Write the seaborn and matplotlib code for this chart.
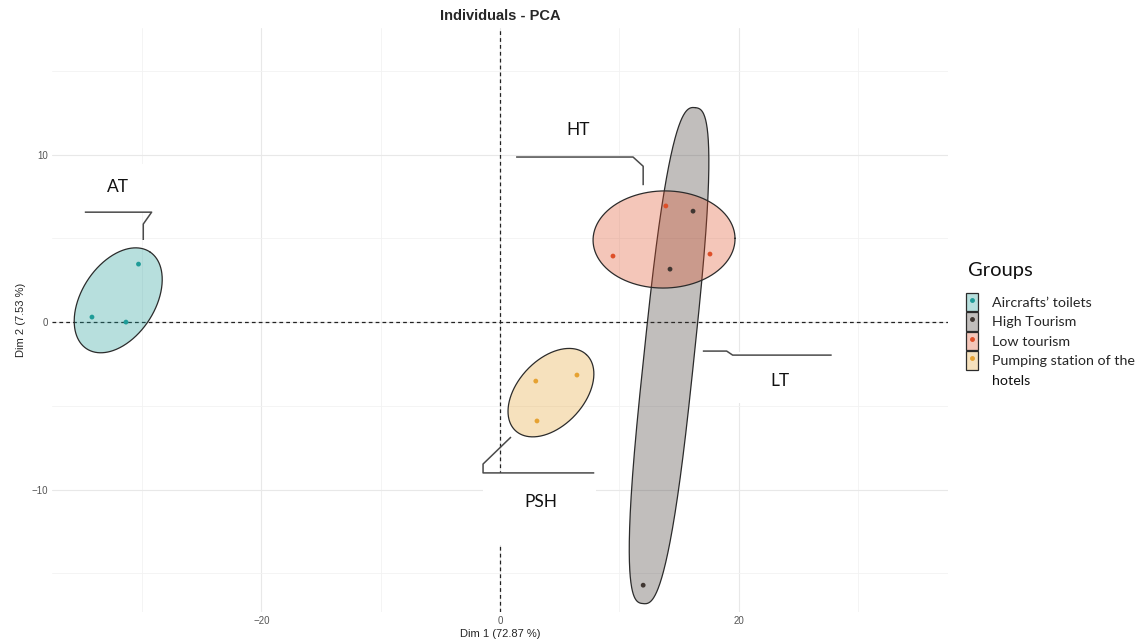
import numpy as np
import pandas as pd
import matplotlib
matplotlib.use("Agg")
import matplotlib.pyplot as plt
import seaborn as sns
from matplotlib.patches import Patch, Rectangle
from matplotlib.lines import Line2D
from matplotlib.legend_handler import HandlerTuple
from matplotlib.colors import to_rgba

# ---- data ----
groups = ["Aircrafts’ toilets", "High Tourism", "Low tourism", "Pumping station of the\nhotels"]
point_colors = ["#1f9c98", "#3f3631", "#de4f28", "#e6a232"]

at_x = [-30.3, -34.2, -31.35]
at_y = [3.46, 0.3, 0.0]
high_x = [16.18, 14.25, 12.0]
high_y = [6.62, 3.16, -15.7]
low_x = [9.47, 13.9, 17.6]
low_y = [3.94, 6.93, 4.06]
psh_x = [3.0, 6.45, 3.1]
psh_y = [-3.52, -3.16, -5.9]

# ellipse per group: centre, semi-axes (x units, as seen on screen), angle, squareness
ell_cx = [-32.0, 14.17, 13.75, 4.27]
ell_cy = [1.3, -2.0, 4.93, -4.21]
ell_a = [4.85, 20.9, 5.95, 4.36]
ell_b = [3.07, 2.1, 4.07, 2.77]
ell_ang = [57, 84, 1, 47]
ell_n = [2, 2.8, 2, 2]

df = pd.DataFrame({
    "Dim1": at_x + high_x + low_x + psh_x,
    "Dim2": at_y + high_y + low_y + psh_y,
    "Groups": [groups[0]] * 3 + [groups[1]] * 3 + [groups[2]] * 3 + [groups[3]] * 3,
})

# ---- style ----
sns.set_theme(style="whitegrid")
plt.rcParams["font.family"] = ["Liberation Sans", "DejaVu Sans"]

W, H = 1144, 643
fig = plt.figure(figsize=(W / 100, H / 100), dpi=100)
ax = fig.add_axes([52 / W, 1 - 612 / H, 896 / W, 584 / H])
xlim = (-37.55, 37.55)
ylim = (-17.3, 17.55)
ax.set_xlim(xlim)
ax.set_ylim(ylim)

# screen aspect, so ellipses keep their on-screen shape
ppx = 896 / (xlim[1] - xlim[0])
ppy = 584 / (ylim[1] - ylim[0])
ratio = ppy / ppx

# grid like theme_minimal
ax.set_xticks([-20, 0, 20])
ax.set_xticks([-30, -10, 10, 30], minor=True)
ax.set_yticks([-10, 0, 10])
ax.set_yticks([-15, -5, 5, 15], minor=True)
ax.grid(which="major", color="#e8e8e8", lw=0.8)
ax.grid(which="minor", color="#f2f2f2", lw=0.6)
for sp in ax.spines.values():
    sp.set_visible(False)
ax.tick_params(which="both", length=0, labelsize=7, labelcolor="#555555", pad=3)

ax.axhline(0, color="#222222", ls=(0, (3, 2.5)), lw=0.9, zorder=1.5)
ax.axvline(0, color="#222222", ls=(0, (3, 2.5)), lw=0.9, zorder=1.5)

# ---- ellipses ----
t = np.linspace(0, 2 * np.pi, 500)
for i, g in enumerate(groups):
    c, s = np.cos(t), np.sin(t)
    u = ell_a[i] * np.sign(c) * np.abs(c) ** (2 / ell_n[i])
    v = ell_b[i] * np.sign(s) * np.abs(s) ** (2 / ell_n[i])
    th = np.radians(ell_ang[i])
    ex = ell_cx[i] + u * np.cos(th) - v * np.sin(th)
    ey = ell_cy[i] + (u * np.sin(th) + v * np.cos(th)) / ratio
    ax.fill(ex, ey, facecolor=point_colors[i], alpha=0.32, edgecolor="none", zorder=2)
    ax.plot(ex, ey, color="#2b2b2b", lw=0.9, zorder=2)

sns.scatterplot(data=df, x="Dim1", y="Dim2", hue="Groups", hue_order=groups,
                palette=point_colors, s=12, edgecolor="none", legend=False,
                zorder=4, ax=ax)

ax.set_title("Individuals - PCA", fontsize=10.5, fontweight="bold", pad=6)
ax.set_xlabel("Dim 1 (72.87 %)", fontsize=8, labelpad=2)
ax.set_ylabel("Dim 2 (7.53 %)", fontsize=8, labelpad=4)

# ---- callouts ----
lab_font = ["Lato", "DejaVu Sans"]
boxes = [(-34.8, 6.56, 5.6, 2.9), (1.35, 7.3, 10.6, 2.55),
         (17.0, -4.8, 10.8, 3.0), (-1.42, -13.3, 9.5, 4.3)]
for bx, by, bw, bh in boxes:
    ax.add_patch(Rectangle((bx, by), bw, bh, facecolor="white", edgecolor="none", zorder=1.8))

callouts = [
    ("AT", (-32.0, 8.05), [-34.8, -29.2, -29.9, -29.9], [6.56, 6.56, 5.85, 4.9]),
    ("HT", (6.55, 11.45), [1.35, 11.15, 12.0, 12.0], [9.85, 9.85, 9.3, 8.17]),
    ("LT", (23.5, -3.52), [17.0, 19.0, 19.5, 27.8], [-1.73, -1.73, -1.97, -1.97]),
    ("PSH", (3.45, -10.74), [0.92, -1.42, -1.42, 7.9], [-6.86, -8.47, -9.0, -9.0]),
]
for txt, (tx, ty), lx, ly in callouts:
    ax.plot(lx, ly, color="#4a4a4a", lw=1.1, zorder=5, solid_capstyle="butt")
    ax.text(tx, ty, txt, ha="center", va="center", fontsize=12.5, family=lab_font,
            color="#111111", zorder=5)

# ---- legend ----
fig.text(968 / W, 1 - 270 / H, "Groups", ha="left", va="center",
         fontsize=14.5, family=lab_font, color="#111111")
handles = []
for col in point_colors:
    handles.append((Patch(facecolor=to_rgba(col, 0.32), edgecolor="#2b2b2b", lw=0.9),
                    Line2D([], [], marker="o", ls="", color=col, ms=2.5)))
# last label wraps; the key sits on its first line, so the second line is added after
leg_labels = [g.split("\n")[0] for g in groups]
leg = fig.legend(handles, leg_labels, loc="upper left",
                 bbox_to_anchor=(960 / W, 1 - 287 / H), frameon=False,
                 borderaxespad=0, prop={"family": lab_font, "size": 10.3},
                 handlelength=0.84, handleheight=1.6, handletextpad=0.98,
                 labelspacing=0.08, alignment="left",
                 handler_map={tuple: HandlerTuple(ndivide=1, pad=0)})
fig.canvas.draw()
bb = leg.get_texts()[-1].get_window_extent()
fig.text(bb.x0 / W, (bb.y0 - 19.5) / H, groups[-1].split("\n")[1], ha="left",
         va="bottom", fontsize=10.3, family=lab_font, color="#111111")

fig.savefig("out.png", dpi=100)
